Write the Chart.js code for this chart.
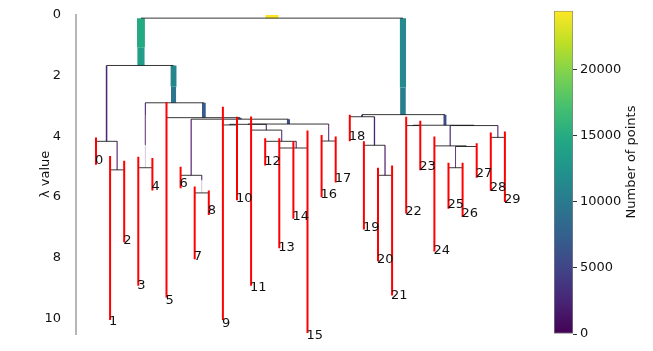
<!DOCTYPE html>
<html><head><meta charset="utf-8">
<script src="https://cdn.jsdelivr.net/npm/chart.js@4.4.0/dist/chart.umd.min.js"></script>
<style>
html,body{margin:0;padding:0;background:#fff;}
#wrap{position:relative;width:653px;height:351px;}
canvas{position:absolute;left:0;top:0;}
</style></head><body>
<div id="wrap"><canvas id="tree" width="653" height="351"></canvas><canvas id="cbar" width="653" height="351"></canvas></div>
<script>
// selected clusters (red), x slot = cluster number, lambda extent
const clusterIds = [0,1,2,3,4,5,6,7,8,9,10,11,12,13,14,15,16,17,18,19,20,21,22,23,24,25,26,27,28,29];
const clusterTop = [4.04,4.65,4.81,4.68,4.72,2.87,5.01,5.66,5.79,3.03,3.36,3.35,4.07,4.07,4.17,3.81,3.96,4.01,3.29,4.17,5.04,4.97,3.36,3.49,4.01,4.88,4.88,4.23,3.88,3.85];
const clusterBottom = [4.94,10.06,7.50,8.93,5.79,9.32,5.72,8.06,6.60,10.06,6.11,8.93,4.97,7.69,6.72,10.49,6.01,5.53,4.17,7.08,8.12,9.25,6.55,5.12,7.80,6.39,6.66,5.37,5.80,6.17];

// other cluster bars: x slot, lambda from, lambda to, number of points
const barX    = [12.48,3.19,3.19,21.77,21.77,0.75,1.5,5.5,5.5,3.5,3.5,3.5,7.65,10.2,6.75,7.5,7.5,13.65,10.79,9.5,12.08,13.17,14.2,16.5,18.87,19.75,20.5,24.75,22.5,26.8,25.12,26.25,25.5,28.5];
const barFrom = [0,0.11,1.07,0.11,2.4,1.67,4.17,1.67,2.37,2.90,3.31,4.29,2.90,3.39,3.44,5.29,5.45,3.44,3.60,3.61,3.61,3.80,4.17,3.60,3.29,3.36,4.30,3.29,3.64,3.64,3.65,4.32,4.34,3.65];
const barTo   = [0.11,1.07,1.67,2.4,3.29,4.17,5.11,2.37,2.90,3.31,4.29,5.04,3.39,3.44,5.29,5.45,5.87,3.60,3.61,3.63,3.80,4.17,4.39,4.16,3.36,4.30,5.29,3.64,3.65,3.65,4.32,4.34,5.04,4.04];
const barSize = [24440,14800,13500,11500,10500,2900,800,11000,9500,2000,700,150,7000,6800,900,800,100,5800,4000,1500,900,800,800,800,3500,2500,900,5500,1800,3500,2200,1200,800,800];

// horizontal split lines: lambda, from slot, to slot
const splitLambda = [0.11,1.67,4.17,5.11,2.90,5.04,3.39,3.44,5.29,5.87,3.60,3.61,3.63,3.80,4.17,4.39,4.16,3.29,3.36,4.30,5.29,3.64,3.65,3.65,4.32,4.34,5.04,4.04];
const splitFrom   = [3.19,0.75,0,1,3.5,3,5,6.75,6,7,10.79,9.5,9,11,12,13,16,18.87,18,19,20,22.5,22,25.12,24,25.5,25,28];
const splitTo     = [21.77,5.5,1.5,2,7.65,4,10.2,13.65,7.5,8,16.5,12.08,10,13.17,14.2,15,17,24.75,19.75,20.5,21,26.8,23,28.5,26.25,27,26,29];

const yTicks = [0,2,4,6,8,10];
const cbTicks = [0,5000,10000,15000,20000];
const maxPoints = 24440;
const pointsPerSlot = 26500;

const viridis = ['#440154','#482475','#414487','#355f8d','#2a788e','#21918c','#22a884','#44bf70','#7ad151','#bddf26','#fde725'];
function hex(h){return [1,3,5].map(i=>parseInt(h.substr(i,2),16));}
function cmap(t, a){
  t = Math.min(1, Math.max(0, t));
  const p = t*10, i = Math.min(9, Math.floor(p)), f = p - i;
  const c0 = hex(viridis[i]), c1 = hex(viridis[i+1]);
  const c = c0.map((v,k)=>Math.round(v + (c1[k]-v)*f));
  return `rgba(${c[0]},${c[1]},${c[2]},${a===undefined?1:a})`;
}
function barPx(chart, size){
  const s = chart.scales.x;
  return Math.abs(s.getPixelForValue(size/pointsPerSlot) - s.getPixelForValue(0));
}

const FONT = 'DejaVu Sans';
const datasets = [];

clusterIds.forEach((c,i)=>{
  datasets.push({
    data:[{x:c,y:clusterTop[i]},{x:c,y:clusterBottom[i]}],
    borderColor:'#ff0000', borderWidth:2, order:0
  });
});
splitLambda.forEach((l,i)=>{
  datasets.push({
    data:[{x:splitFrom[i],y:l},{x:splitTo[i],y:l}],
    borderColor:'rgba(20,20,20,0.85)', borderWidth:1, order:1
  });
});
barX.forEach((x,i)=>{
  const size = barSize[i];
  datasets.push({
    data:[{x:x,y:barFrom[i]},{x:x,y:barTo[i]}],
    borderWidth: ctx => Math.max(1, barPx(ctx.chart, size)),
    borderColor: ctx => { const w = barPx(ctx.chart, size); return cmap(size/maxPoints, w < 1 ? Math.max(0.08, w) : 1); },
    order:2
  });
});

const labelPlugin = {
  id:'clusterLabels',
  afterDatasetsDraw(chart){
    const {ctx, scales:{x, y}} = chart;
    ctx.save();
    ctx.font = `13px "${FONT}"`;
    ctx.fillStyle = '#111';
    ctx.textAlign = 'left';
    ctx.textBaseline = 'bottom';
    clusterIds.forEach((c,i)=>{
      const h = clusterBottom[i] - clusterTop[i];
      const lam = clusterBottom[i] + h/24;
      ctx.fillText(String(c), x.getPixelForValue(c) - 1, y.getPixelForValue(lam) + 1);
    });
    ctx.restore();
  }
};

new Chart(document.getElementById('tree'), {
  type:'scatter',
  data:{datasets},
  options:{
    responsive:false, animation:false,
    showLine:true,
    elements:{point:{radius:0, hoverRadius:0}, line:{tension:0}},
    layout:{padding:{left:0, right:113, top:10, bottom:17}},
    plugins:{legend:{display:false}, tooltip:{enabled:false}},
    scales:{
      x:{type:'linear', display:false, min:-1.418, max:31.49},
      y:{
        type:'linear', reverse:true, min:0, max:10.52,
        afterBuildTicks: s => { s.ticks = yTicks.map(v=>({value:v})); },
        afterFit: s => { s.width = 76; },
        grid:{display:false},
        border:{display:true, color:'#b5b5b5', width:2},
        ticks:{color:'#111', padding:7, font:{family:FONT, size:13}},
        title:{display:true, text:'λ value', color:'#111', font:{family:FONT, size:13}, padding:{top:38, bottom:0}}
      }
    }
  },
  plugins:[labelPlugin]
});

const cbTitle = {
  id:'cbTitle',
  afterDraw(chart){
    const {ctx} = chart;
    ctx.save();
    ctx.translate(632, 162);
    ctx.rotate(-Math.PI/2);
    ctx.font = `13px "${FONT}"`;
    ctx.fillStyle = '#111';
    ctx.textAlign = 'center';
    ctx.textBaseline = 'middle';
    ctx.fillText('Number of points', 0, 0);
    ctx.restore();
  }
};

new Chart(document.getElementById('cbar'), {
  type:'bar',
  data:{labels:['cb'], datasets:[{
    data:[[0, maxPoints]],
    barPercentage:1, categoryPercentage:1,
    borderWidth:1, borderColor:'#808080', borderSkipped:false,
    backgroundColor: ctx => {
      const a = ctx.chart.chartArea;
      if (!a) return viridis[5];
      const g = ctx.chart.ctx.createLinearGradient(0, a.bottom, 0, a.top);
      viridis.forEach((c,i)=>g.addColorStop(i/10, c));
      return g;
    }
  }]},
  options:{
    responsive:false, animation:false,
    layout:{padding:{left:554, right:0, top:10, bottom:17}},
    plugins:{legend:{display:false}, tooltip:{enabled:false}},
    scales:{
      x:{display:false},
      y:{
        position:'right', min:0, max:maxPoints,
        afterBuildTicks: s => { s.ticks = cbTicks.map(v=>({value:v})); },
        afterFit: s => { s.width = 80; },
        grid:{drawOnChartArea:false, drawTicks:true, tickLength:4, color:'#333'},
        border:{display:false},
        ticks:{color:'#111', padding:3, font:{family:FONT, size:13}, callback: v => String(v)}
      }
    }
  },
  plugins:[cbTitle]
});
</script>
</body></html>
